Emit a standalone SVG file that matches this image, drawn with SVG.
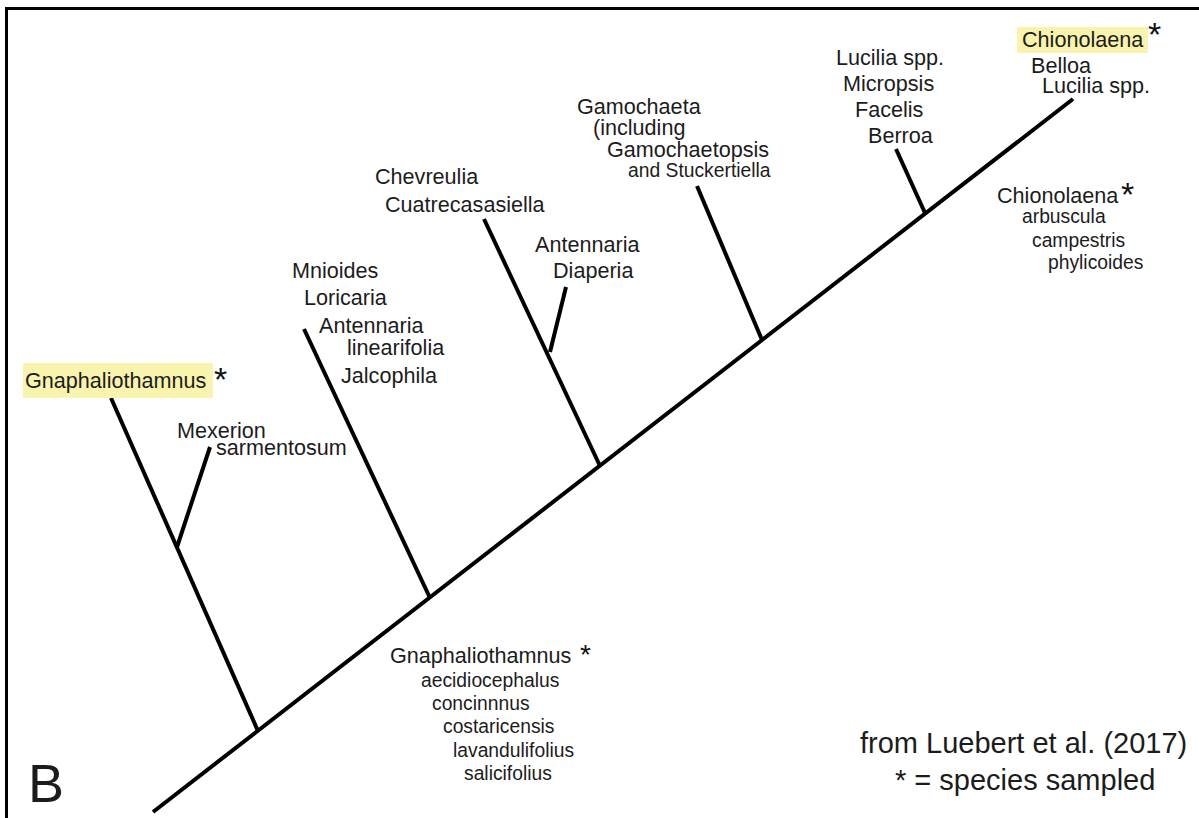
<svg xmlns="http://www.w3.org/2000/svg" width="1199" height="818" viewBox="0 0 1199 818">
<style>
text{font-family:"Liberation Sans",Arial,sans-serif;fill:#1c1c1c}
.l{font-size:21.6px}
.s{font-size:19.3px}
.ast{font-size:34px;fill:#111}
.hl{fill:#f8f4ae}
.br{stroke:#000;stroke-width:4;stroke-linecap:butt;fill:none}
</style>
<rect width="1199" height="818" fill="#fff"/>
<path d="M6.5 818V8.5H1199" fill="none" stroke="#000" stroke-width="3"/>
<g id="connectors">
<line class="br" x1="153" y1="812" x2="1073" y2="99"/>
<line class="br" x1="258" y1="731" x2="111" y2="398"/>
<line class="br" x1="177" y1="547" x2="210" y2="447"/>
<line class="br" x1="430" y1="598" x2="304" y2="329"/>
<line class="br" x1="600" y1="466" x2="484" y2="219"/>
<line class="br" x1="550" y1="352" x2="566" y2="287"/>
<line class="br" x1="762" y1="340" x2="697" y2="186"/>
<line class="br" x1="925" y1="213" x2="896" y2="149"/>
</g>
<g id="gnaphaliothamnus">
<rect class="hl" x="23" y="363" width="190" height="35"/>
<text class="l" x="25" y="388">Gnaphaliothamnus</text>
<text class="ast" x="214" y="391">*</text>
</g>
<g id="mexerion">
<text class="l" x="177" y="438">Mexerion</text>
<text class="l" x="216" y="455">sarmentosum</text>
</g>
<g id="mnioides">
<text class="l" x="292" y="278">Mnioides</text>
<text class="l" x="304" y="305">Loricaria</text>
<text class="l" x="319" y="333">Antennaria</text>
<text class="l" x="347" y="355">linearifolia</text>
<text class="l" x="341" y="383">Jalcophila</text>
</g>
<g id="chevreulia">
<text class="l" x="375" y="184">Chevreulia</text>
<text class="l" x="385" y="212">Cuatrecasasiella</text>
</g>
<g id="antennaria">
<text class="l" x="535" y="252">Antennaria</text>
<text class="l" x="553" y="278">Diaperia</text>
</g>
<g id="gamochaeta">
<text class="l" x="577" y="114">Gamochaeta</text>
<text class="l" x="593" y="135">(including</text>
<text class="l" x="607" y="157">Gamochaetopsis</text>
<text class="s" x="628" y="177">and Stuckertiella</text>
</g>
<g id="lucilia">
<text class="l" x="836" y="65">Lucilia spp.</text>
<text class="l" x="843" y="91">Micropsis</text>
<text class="l" x="855" y="117">Facelis</text>
<text class="l" x="868" y="143">Berroa</text>
</g>
<g id="chionolaena-top">
<rect class="hl" x="1017" y="27" width="131" height="26"/>
<text class="l" x="1022" y="47">Chionolaena</text>
<text class="ast" x="1148" y="46">*</text>
<text class="l" x="1031" y="73">Belloa</text>
<text class="l" x="1042" y="93">Lucilia spp.</text>
</g>
<g id="chionolaena-species">
<text class="l" x="997" y="203">Chionolaena</text>
<text class="ast" x="1121" y="206">*</text>
<text class="s" x="1022" y="223">arbuscula</text>
<text class="s" x="1032" y="247">campestris</text>
<text class="s" x="1048" y="269">phylicoides</text>
</g>
<g id="gnaphaliothamnus-species">
<text class="l" x="390" y="663">Gnaphaliothamnus</text>
<text class="ast" style="font-size:28px" x="580" y="664">*</text>
<text class="s" x="421" y="687">aecidiocephalus</text>
<text class="s" x="432" y="710">concinnnus</text>
<text class="s" x="443" y="733">costaricensis</text>
<text class="s" x="453" y="757">lavandulifolius</text>
<text class="s" x="464" y="780">salicifolius</text>
</g>
<g id="legend">
<text style="font-size:29px" x="860" y="753">from Luebert et al. (2017)</text>
<text style="font-size:29px" x="895" y="790">* = species sampled</text>
</g>
<text style="font-size:54px" x="28" y="802">B</text>
</svg>
